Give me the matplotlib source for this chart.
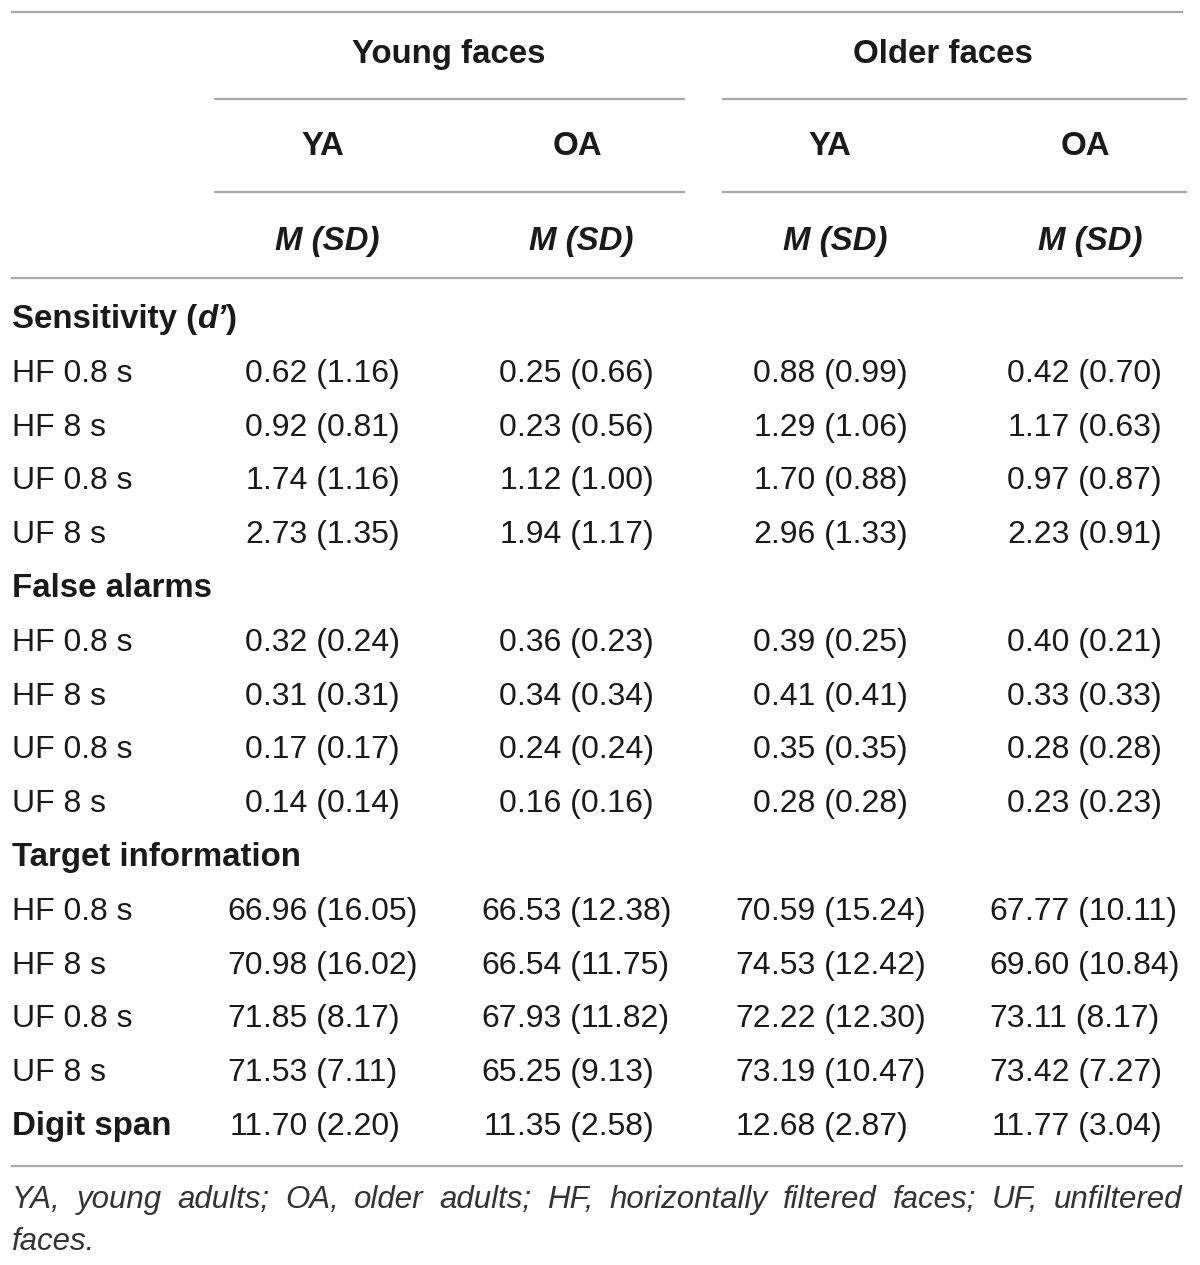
import matplotlib
matplotlib.use("Agg")
import matplotlib.pyplot as plt

plt.rcParams['font.family'] = ['Liberation Sans', 'DejaVu Sans']

# ---- data ----
groups = ["Young faces", "Older faces"]
subgroups = ["YA", "OA", "YA", "OA"]
conditions = ["HF 0.8 s", "HF 8 s", "UF 0.8 s", "UF 8 s"]

sens_m = [[0.62, 0.25, 0.88, 0.42],
          [0.92, 0.23, 1.29, 1.17],
          [1.74, 1.12, 1.70, 0.97],
          [2.73, 1.94, 2.96, 2.23]]
sens_sd = [[1.16, 0.66, 0.99, 0.70],
           [0.81, 0.56, 1.06, 0.63],
           [1.16, 1.00, 0.88, 0.87],
           [1.35, 1.17, 1.33, 0.91]]

fa_m = [[0.32, 0.36, 0.39, 0.40],
        [0.31, 0.34, 0.41, 0.33],
        [0.17, 0.24, 0.35, 0.28],
        [0.14, 0.16, 0.28, 0.23]]
fa_sd = [[0.24, 0.23, 0.25, 0.21],
         [0.31, 0.34, 0.41, 0.33],
         [0.17, 0.24, 0.35, 0.28],
         [0.14, 0.16, 0.28, 0.23]]

ti_m = [[66.96, 66.53, 70.59, 67.77],
        [70.98, 66.54, 74.53, 69.60],
        [71.85, 67.93, 72.22, 73.11],
        [71.53, 65.25, 73.19, 73.42]]
ti_sd = [[16.05, 12.38, 15.24, 10.11],
         [16.02, 11.75, 12.42, 10.84],
         [8.17, 11.82, 12.30, 8.17],
         [7.11, 9.13, 10.47, 7.27]]

ds_m = [11.70, 11.35, 12.68, 11.77]
ds_sd = [2.20, 2.58, 2.87, 3.04]

footnote = ("YA, young adults; OA, older adults; HF, horizontally filtered faces; "
            "UF, unfiltered faces.")

# ---- layout ----
W, H = 1200, 1265
fig = plt.figure(figsize=(W / 100, H / 100), dpi=100)
ax = fig.add_axes([0, 0, 1, 1])
ax.set_xlim(0, W)
ax.set_ylim(H, 0)
ax.axis('off')
renderer = fig.canvas.get_renderer()

txt = '#1a1a1a'
rule = '#a8a8a8'
fs = 23
fs_b = 23.8

dec_x = [263, 517, 771, 1025]
head_x = [323, 577, 830, 1085]
msd_x = [327, 581, 835, 1090]


def width_of(t):
    return t.get_window_extent(renderer).width


def runs(x, y, parts):
    # parts: list of (text, weight, style)
    for s, w, st in parts:
        t = ax.text(x, y, s, fontsize=fs_b, fontweight=w, fontstyle=st,
                    color=txt, va='baseline', ha='left')
        x += width_of(t)


# rules
ax.plot([12, 1182], [12, 12], color=rule, lw=1.6)
for yy in [99, 192]:
    ax.plot([215, 684], [yy, yy], color=rule, lw=1.6)
    ax.plot([723, 1186], [yy, yy], color=rule, lw=1.6)
ax.plot([12, 1182], [278, 278], color=rule, lw=1.6)
ax.plot([12, 1182], [1166, 1166], color=rule, lw=1.6)

# headers
ax.text(449, 63, groups[0], fontsize=fs_b, fontweight='bold', color=txt,
        ha='center', va='baseline')
ax.text(943, 63, groups[1], fontsize=fs_b, fontweight='bold', color=txt,
        ha='center', va='baseline')
for x, s in zip(head_x, subgroups):
    ax.text(x, 155, s, fontsize=fs_b, fontweight='bold', color=txt,
            ha='center', va='baseline')
for x in msd_x:
    ax.text(x, 250, "M (SD)", fontsize=fs_b, fontweight='bold',
            fontstyle='italic', color=txt, ha='center', va='baseline')


def value(x, y, m, sd):
    s = "{:.2f}".format(m)
    ip, fp = s.split('.')
    ax.text(x, y, ip, fontsize=fs, color=txt, ha='right', va='baseline')
    ax.text(x, y, "." + fp + " ({:.2f})".format(sd), fontsize=fs, color=txt,
            ha='left', va='baseline')


base0 = 328
step = 53.8
line = 0

sections = [
    ([("Sensitivity (", 'bold', 'normal'), ("d\u2019", 'bold', 'italic'),
      (")", 'bold', 'normal')], sens_m, sens_sd),
    ([("False alarms", 'bold', 'normal')], fa_m, fa_sd),
    ([("Target information", 'bold', 'normal')], ti_m, ti_sd),
]

for parts, ms, sds in sections:
    runs(12, base0 + line * step, parts)
    line += 1
    for cond, mrow, sdrow in zip(conditions, ms, sds):
        y = base0 + line * step
        ax.text(12, y, cond, fontsize=fs, color=txt, ha='left', va='baseline')
        for x, m, sd in zip(dec_x, mrow, sdrow):
            value(x, y, m, sd)
        line += 1

y = base0 + line * step
runs(12, y, [("Digit span", 'bold', 'normal')])
for x, m, sd in zip(dec_x, ds_m, ds_sd):
    value(x, y, m, sd)

# footnote, justified first line
words = footnote.split(' ')
first, rest = words[:-1], words[-1:]
fn_color = '#333333'
fn_fs = 22.5
items = [ax.text(0, 1208, w, fontsize=fn_fs, fontstyle='italic', color=fn_color,
                 ha='left', va='baseline') for w in first]
widths = [width_of(t) for t in items]
gap = (1182 - 12 - sum(widths)) / (len(items) - 1)
x = 12
for t, w in zip(items, widths):
    t.set_x(x)
    x += w + gap
ax.text(12, 1250, ' '.join(rest), fontsize=fn_fs, fontstyle='italic',
        color=fn_color, ha='left', va='baseline')

fig.savefig("out.png", dpi=100, facecolor='white')
